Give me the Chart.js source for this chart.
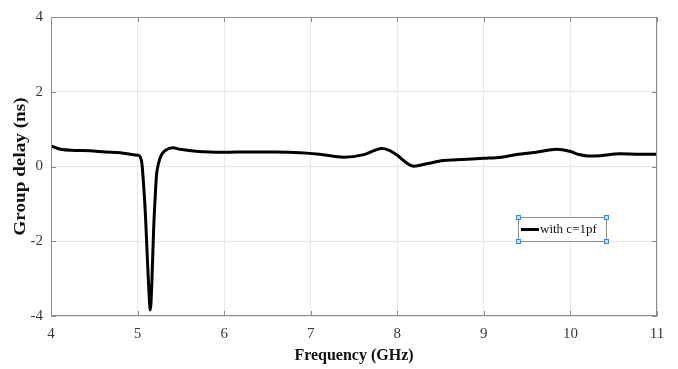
<!DOCTYPE html>
<html>
<head>
<meta charset="utf-8">
<script src="https://cdn.jsdelivr.net/npm/chart.js@4.4.0/dist/chart.umd.min.js"></script>
<style>
html,body{margin:0;padding:0;background:#fff;}
#wrap{width:678px;height:369px;position:relative;}
</style>
</head>
<body>
<div id="wrap"><canvas id="c" width="678" height="369"></canvas></div>
<script>
// Data
const frequencyGHz = [4.0, 4.11, 4.28, 4.45, 4.63, 4.8, 4.97, 5.01, 5.03, 5.05, 5.07, 5.09, 5.11, 5.13, 5.147, 5.165, 5.185, 5.205, 5.22, 5.24, 5.26, 5.29, 5.32, 5.41, 5.49, 5.7, 6.0, 6.3, 6.6, 6.88, 7.1, 7.38, 7.6, 7.75, 7.82, 7.9, 8.0, 8.1, 8.19, 8.35, 8.53, 8.75, 9.0, 9.2, 9.38, 9.6, 9.84, 10.0, 10.1, 10.2, 10.35, 10.57, 10.8, 11.0];
const groupDelayNs = [0.55, 0.46, 0.43, 0.42, 0.39, 0.37, 0.31, 0.30, 0.26, 0.08, -0.5, -1.26, -2.3, -3.3, -3.84, -3.1, -1.71, -0.75, -0.2, 0.06, 0.23, 0.36, 0.43, 0.50, 0.46, 0.40, 0.38, 0.39, 0.39, 0.37, 0.33, 0.25, 0.31, 0.44, 0.48, 0.44, 0.30, 0.11, 0.01, 0.08, 0.16, 0.19, 0.22, 0.25, 0.32, 0.38, 0.46, 0.40, 0.32, 0.28, 0.29, 0.34, 0.33, 0.33];
const seriesLabel = "with c=1pf";
const xTitle = "Frequency (GHz)";
const yTitle = "Group delay (ns)";

const points = frequencyGHz.map((f, i) => ({x: f, y: groupDelayNs[i]}));

const framePlugin = {
  id: 'frame',
  afterDatasetsDraw(chart) {
    const {ctx, chartArea: a, scales} = chart;
    ctx.save();
    ctx.strokeStyle = '#8c8c8c';
    ctx.lineWidth = 1;
    ctx.strokeRect(a.left + 0.5, a.top + 0.5, a.right - a.left - 1, a.bottom - a.top - 1);
    // inward ticks
    ctx.beginPath();
    scales.x.ticks.forEach(t => {
      const px = Math.round(scales.x.getPixelForValue(t.value)) + 0.5;
      ctx.moveTo(px, a.bottom); ctx.lineTo(px, a.bottom - 5);
      ctx.moveTo(px, a.top); ctx.lineTo(px, a.top + 5);
    });
    scales.y.ticks.forEach(t => {
      const py = Math.round(scales.y.getPixelForValue(t.value)) + 0.5;
      ctx.moveTo(a.left, py); ctx.lineTo(a.left + 5, py);
      ctx.moveTo(a.right, py); ctx.lineTo(a.right - 5, py);
    });
    ctx.stroke();
    // y title (stretched along its length like the reference)
    ctx.save();
    ctx.translate(21, (a.top + a.bottom) / 2);
    ctx.rotate(-Math.PI / 2);
    ctx.scale(1.2, 1);
    ctx.fillStyle = '#111';
    ctx.font = 'bold 16px "Liberation Serif", serif';
    ctx.textAlign = 'center';
    ctx.textBaseline = 'middle';
    ctx.fillText(yTitle, 0, 0);
    ctx.restore();
    // legend box
    const bx = 518, by = 217, bw = 88, bh = 24;
    ctx.fillStyle = '#fff';
    ctx.fillRect(bx, by, bw, bh);
    ctx.strokeStyle = '#8c8c8c';
    ctx.strokeRect(bx + 0.5, by + 0.5, bw, bh);
    ctx.strokeStyle = '#000';
    ctx.lineWidth = 3;
    ctx.beginPath();
    ctx.moveTo(bx + 3, by + 12.5); ctx.lineTo(bx + 21, by + 12.5);
    ctx.stroke();
    ctx.fillStyle = '#111';
    ctx.font = '13px "Liberation Serif", serif';
    ctx.textBaseline = 'middle';
    ctx.fillText(seriesLabel, bx + 22, by + 13);
    // selection handles
    ctx.lineWidth = 1;
    [[bx, by], [bx + bw, by], [bx, by + bh], [bx + bw, by + bh]].forEach(([hx, hy]) => {
      ctx.fillStyle = '#cfe2f7';
      ctx.strokeStyle = '#3b86d6';
      ctx.fillRect(hx - 2, hy - 2, 5, 5);
      ctx.strokeRect(hx - 2 + 0.5, hy - 2 + 0.5, 4, 4);
    });
    ctx.restore();
  }
};

new Chart(document.getElementById('c'), {
  type: 'line',
  data: {
    datasets: [{
      label: seriesLabel,
      data: points,
      borderColor: '#000',
      borderWidth: 3,
      pointRadius: 0,
      cubicInterpolationMode: 'monotone',
      fill: false
    }]
  },
  options: {
    responsive: false,
    animation: false,
    devicePixelRatio: 1,
    layout: {padding: {top: 15, right: 21, left: 0, bottom: 0}},
    plugins: {legend: {display: false}, tooltip: {enabled: false}},
    scales: {
      x: {
        type: 'linear', min: 4, max: 11,
        ticks: {stepSize: 1, color: '#3a3a3a', font: {family: '"Liberation Serif", serif', size: 15}, padding: 9, maxRotation: 0},
        grid: {color: '#e8e8e8', drawTicks: false},
        border: {display: false},
        title: {display: true, text: xTitle, color: '#111', font: {family: '"Liberation Serif", serif', size: 16, weight: 'bold'}, padding: {top: 2, bottom: 4}},
        afterFit(s) { s.height = 53; }
      },
      y: {
        min: -4, max: 4,
        ticks: {stepSize: 2, color: '#3a3a3a', font: {family: '"Liberation Serif", serif', size: 15}, padding: 8},
        grid: {color: '#e8e8e8', drawTicks: false},
        border: {display: false},
        title: {display: false, text: yTitle},
        afterFit(s) { s.width = 51; }
      }
    }
  },
  plugins: [framePlugin]
});
</script>
</body>
</html>
